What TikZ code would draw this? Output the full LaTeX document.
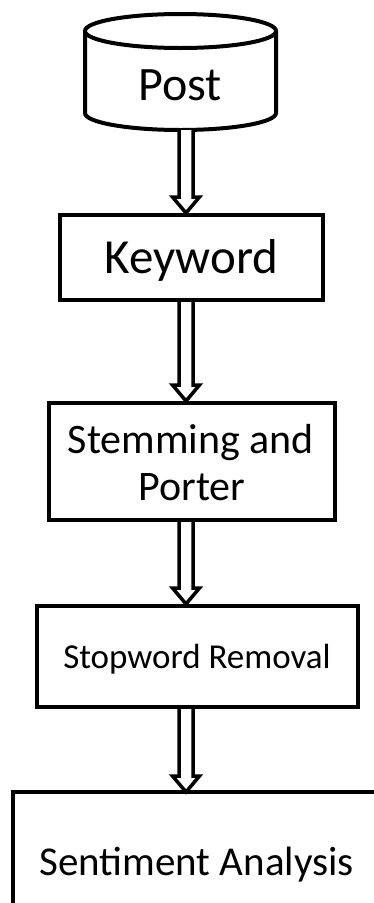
\documentclass[tikz,border=0pt]{standalone}
\usepackage{fontspec}
\setmainfont{Carlito}
\usetikzlibrary{calc}
\tikzset{
  shapeline/.style={draw=black, line width=4pt, fill=white},
  boxnode/.style={draw=black, line width=4pt, fill=white, inner sep=0pt},
  txt/.style={inner sep=0pt, anchor=base, text=black},
  harrow/.style={draw=black, line width=3.5pt, fill=white, line join=miter},
}
\newcommand\hollowarrow[2]{%
  \draw[harrow] let \p1=(#1), \p2=(#2) in
    (\x1-7pt,\y1) -- (\x1-7pt,\y2+16pt) -- (\x1-13.5pt,\y2+16pt) -- (\x1,\y2)
    -- (\x1+13.5pt,\y2+16pt) -- (\x1+7pt,\y2+16pt) -- (\x1+7pt,\y1);%
}
\begin{document}
\begin{tikzpicture}[x=1pt,y=1pt]
\useasboundingbox (0,0) rectangle (374,-903);
\fill[white] (0,0) rectangle (374,-903);
\clip (0,0) rectangle (374,-903);

% cylinder "Post"
\draw[shapeline] (85,-31) -- (85,-113) arc[start angle=180, end angle=360, x radius=95.5, y radius=17] -- (276,-31);
\draw[shapeline] (180.5,-31) ellipse [x radius=95.5, y radius=17];
\node[txt, font=\fontsize{48}{58}\selectfont] (post) at (180,-100) {Post};

% boxes
\node[boxnode, minimum width=263, minimum height=85] (kw) at (191.5,-257.5) {};
\node[txt, font=\fontsize{49}{58}\selectfont] (kwt) at (191.5,-273) {Keyword};

\node[boxnode, minimum width=286, minimum height=117] (st) at (192,-461.5) {};
\node[txt, font=\fontsize{42}{50}\selectfont] (stt1) at (191,-453) {Stemming and};
\node[txt, font=\fontsize{42}{50}\selectfont] (stt2) at (192,-500) {Porter};

\node[boxnode, minimum width=321, minimum height=101] (sw) at (197.5,-656.5) {};
\node[txt, font=\fontsize{35}{42}\selectfont] (swt) at (197,-668) {Stopword Removal};

\draw[shapeline] (13,-960) -- (13,-792) -- (440,-792);
\coordinate (sa) at (186,-792);
\node[txt, font=\fontsize{41}{50}\selectfont] (sat) at (196.5,-875) {Sentiment Analysis};

% connectors
\coordinate (a1s) at (186,-130);
\coordinate (a1e) at (a1s |- kw.north);
\hollowarrow{a1s}{a1e}
\coordinate (a2s) at (a1s |- kw.south);
\coordinate (a2e) at (a1s |- st.north);
\hollowarrow{a2s}{a2e}
\coordinate (a3s) at (a1s |- st.south);
\coordinate (a3e) at (a1s |- sw.north);
\hollowarrow{a3s}{a3e}
\coordinate (a4s) at (a1s |- sw.south);
\hollowarrow{a4s}{sa}
\end{tikzpicture}
\end{document}
